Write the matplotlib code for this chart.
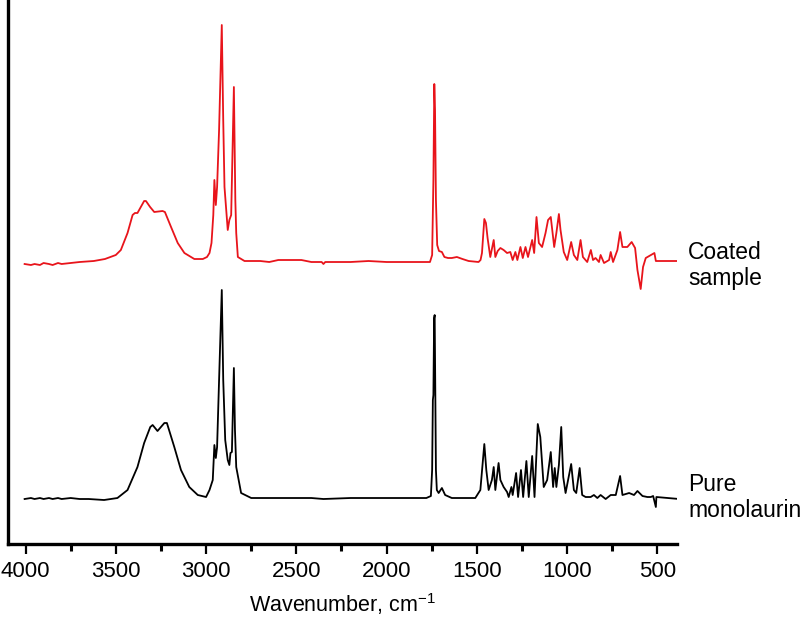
import matplotlib
matplotlib.use("Agg")
import matplotlib.pyplot as plt
from matplotlib.ticker import MultipleLocator

plt.rcParams['font.family'] = ['Liberation Sans', 'DejaVu Sans']
plt.rcParams['mathtext.fontset'] = 'custom'
plt.rcParams['mathtext.rm'] = 'Liberation Sans'
plt.rcParams['mathtext.it'] = 'Liberation Sans:italic'

# FTIR traces: (wavenumber cm-1, offset absorbance a.u.)
coated_points = [
    (4005, 2.80), (3970, 2.79), (3950, 2.80), (3920, 2.79), (3900, 2.81), (3870, 2.80),
    (3850, 2.79), (3820, 2.81), (3800, 2.80), (3750, 2.81), (3700, 2.82), (3622, 2.83),
    (3560, 2.85), (3500, 2.89), (3472, 2.94), (3435, 3.11), (3407, 3.29), (3394, 3.31),
    (3380, 3.31), (3343, 3.43), (3333, 3.43), (3310, 3.37), (3287, 3.32), (3241, 3.33),
    (3228, 3.32), (3194, 3.17), (3157, 3.01), (3120, 2.91), (3065, 2.85), (3018, 2.85),
    (2995, 2.87), (2981, 2.91), (2970, 3.01), (2960, 3.29), (2954, 3.64), (2946, 3.39),
    (2939, 3.57), (2928, 4.14), (2913, 5.19), (2905, 4.24), (2898, 3.57), (2880, 3.14),
    (2871, 3.24), (2861, 3.29), (2846, 4.57), (2838, 3.44), (2833, 3.11), (2824, 2.87),
    (2787, 2.83), (2700, 2.83), (2650, 2.82), (2600, 2.84), (2472, 2.84), (2417, 2.82),
    (2360, 2.82), (2350, 2.80), (2340, 2.82), (2300, 2.82), (2200, 2.82), (2100, 2.83),
    (2000, 2.82), (1900, 2.82), (1800, 2.82), (1760, 2.82), (1748, 2.89), (1741, 3.64),
    (1736, 4.60), (1732, 4.34), (1727, 3.44), (1720, 2.99), (1710, 2.93), (1694, 2.92),
    (1680, 2.87), (1660, 2.86), (1639, 2.86), (1611, 2.87), (1580, 2.85), (1546, 2.83),
    (1491, 2.82), (1480, 2.84), (1472, 2.91), (1459, 3.25), (1450, 3.21), (1441, 3.06),
    (1426, 2.87), (1407, 3.04), (1398, 2.87), (1385, 2.93), (1370, 2.96), (1352, 2.94),
    (1333, 2.91), (1315, 2.92), (1302, 2.84), (1287, 2.92), (1276, 2.84), (1259, 2.97),
    (1246, 2.86), (1231, 2.97), (1217, 2.87), (1194, 3.04), (1183, 2.91), (1170, 3.27),
    (1157, 3.01), (1139, 2.97), (1120, 3.11), (1106, 3.24), (1091, 3.27), (1072, 2.97),
    (1060, 3.11), (1046, 3.30), (1037, 3.14), (1019, 2.92), (1000, 2.84), (978, 3.02),
    (963, 2.89), (944, 2.84), (926, 3.04), (913, 2.87), (889, 2.82), (869, 2.94),
    (857, 2.84), (843, 2.86), (824, 2.82), (815, 2.89), (796, 2.81), (768, 2.84),
    (759, 2.92), (746, 2.82), (722, 2.94), (707, 3.12), (694, 2.97), (667, 2.97),
    (643, 3.02), (624, 2.96), (611, 2.74), (593, 2.55), (580, 2.77), (565, 2.86),
    (546, 2.88), (528, 2.90), (517, 2.91), (509, 2.83), (417, 2.83), (380, 2.83),
]

pure_points = [
    (4005, 0.45), (3970, 0.46), (3950, 0.45), (3920, 0.46), (3900, 0.45), (3870, 0.46),
    (3850, 0.45), (3820, 0.46), (3800, 0.45), (3750, 0.46), (3700, 0.45), (3650, 0.45),
    (3565, 0.44), (3491, 0.46), (3435, 0.54), (3380, 0.77), (3343, 1.01), (3309, 1.17),
    (3296, 1.19), (3269, 1.13), (3231, 1.21), (3217, 1.21), (3176, 0.97), (3139, 0.74),
    (3093, 0.57), (3046, 0.49), (3000, 0.47), (2981, 0.54), (2963, 0.64), (2954, 0.99),
    (2946, 0.86), (2939, 0.97), (2928, 1.64), (2913, 2.54), (2905, 1.64), (2894, 1.04),
    (2880, 0.84), (2871, 0.79), (2865, 0.91), (2857, 0.92), (2846, 1.76), (2840, 1.14),
    (2833, 0.77), (2806, 0.51), (2750, 0.46), (2600, 0.46), (2417, 0.46), (2350, 0.45),
    (2200, 0.46), (2000, 0.46), (1850, 0.46), (1780, 0.46), (1755, 0.48), (1748, 0.74),
    (1744, 1.44), (1741, 1.49), (1737, 2.26), (1734, 2.29), (1731, 1.64), (1727, 0.74),
    (1722, 0.54), (1712, 0.51), (1694, 0.56), (1676, 0.49), (1639, 0.46), (1509, 0.46),
    (1481, 0.54), (1459, 1.00), (1448, 0.74), (1435, 0.54), (1417, 0.64), (1407, 0.77),
    (1398, 0.54), (1380, 0.81), (1370, 0.64), (1352, 0.57), (1333, 0.52), (1324, 0.47),
    (1309, 0.57), (1302, 0.49), (1283, 0.71), (1272, 0.47), (1256, 0.74), (1244, 0.47),
    (1226, 0.83), (1213, 0.47), (1194, 0.88), (1181, 0.47), (1163, 1.20), (1149, 1.07),
    (1130, 0.57), (1111, 0.64), (1091, 0.92), (1078, 0.57), (1069, 0.76), (1060, 0.57),
    (1046, 0.79), (1033, 1.17), (1022, 0.67), (1009, 0.51), (978, 0.80), (963, 0.54),
    (950, 0.51), (931, 0.76), (917, 0.49), (898, 0.47), (870, 0.47), (852, 0.49),
    (833, 0.46), (815, 0.49), (787, 0.45), (759, 0.49), (731, 0.49), (707, 0.68),
    (694, 0.49), (657, 0.51), (630, 0.49), (611, 0.53), (583, 0.48), (556, 0.47),
    (537, 0.47), (524, 0.48), (509, 0.37), (506, 0.47), (380, 0.45),
]

coated_wn, coated_abs = zip(*coated_points)
pure_wn, pure_abs = zip(*pure_points)

x_ticks = [4000, 3500, 3000, 2500, 2000, 1500, 1000, 500]

fig = plt.figure(figsize=(8, 6.17), dpi=100)
ax = fig.add_axes([0.01, 0.1183, 0.836, 0.8817])

ax.plot(coated_wn, coated_abs, color='#e8141b', linewidth=1.3)
ax.plot(pure_wn, pure_abs, color='black', linewidth=1.3)

ax.set_xlim(4097, 393)
ax.set_ylim(0, 5.44)
ax.set_xticks(x_ticks)
ax.xaxis.set_minor_locator(MultipleLocator(250))
ax.set_yticks([])

for side in ['top', 'right']:
    ax.spines[side].set_visible(False)
for side in ['left', 'bottom']:
    ax.spines[side].set_linewidth(2.4)

ax.tick_params(axis='x', which='major', direction='out', length=7, width=1.6,
               labelsize=16, pad=5)
ax.tick_params(axis='x', which='minor', direction='out', length=5, width=2.2)
ax.set_xlabel('Wavenumber, cm$^{-1}$', fontsize=15.5, labelpad=6.5)

fig.text(0.86, 0.570, 'Coated\nsample', fontsize=16.5, va='center', ha='left',
         linespacing=1.2)
fig.text(0.86, 0.194, 'Pure\nmonolaurin', fontsize=16.5, va='center', ha='left',
         linespacing=1.2)

fig.savefig('out.png', dpi=100)
